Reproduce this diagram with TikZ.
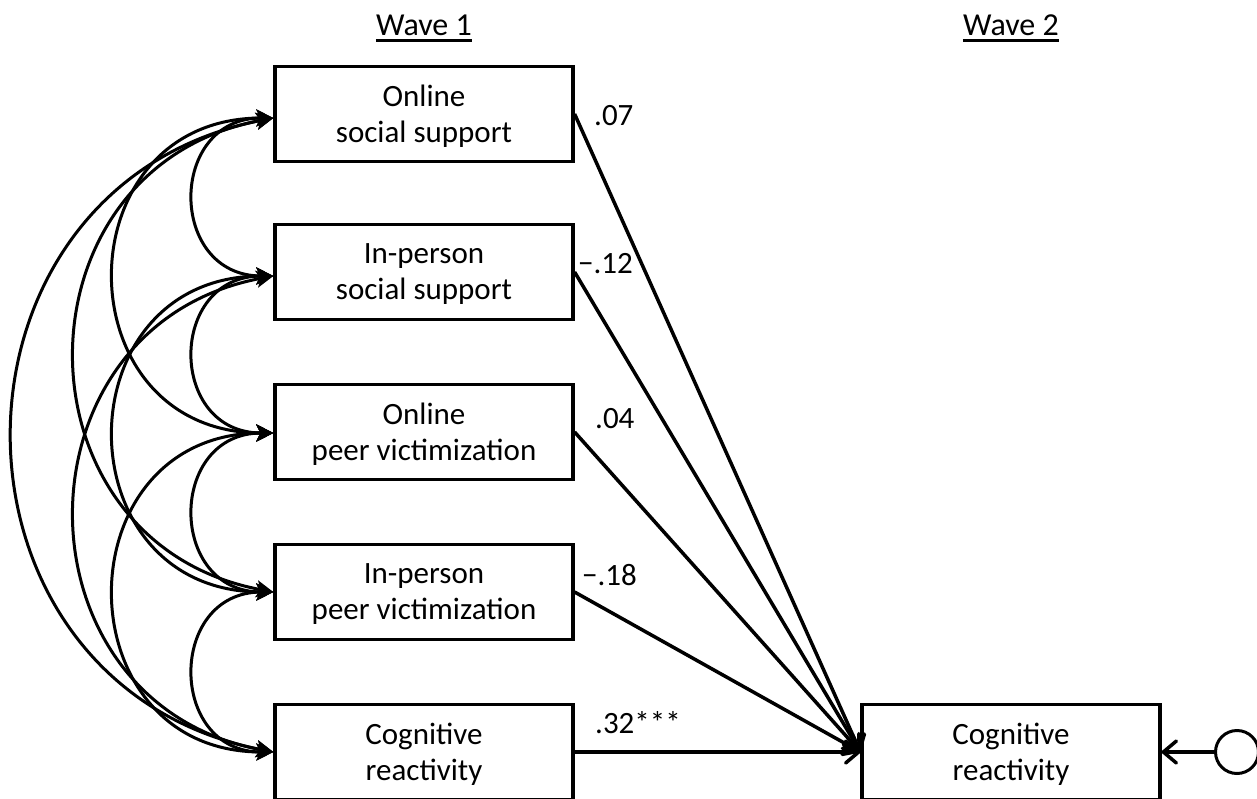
\documentclass[tikz,border=0pt]{standalone}
\usepackage{fontspec}
\setmainfont{Carlito}
\usetikzlibrary{arrows.meta,calc}
\begin{document}
\begin{tikzpicture}[x=1pt,y=1pt,
  box/.style={draw, line width=3.2pt, minimum width=298pt, minimum height=95pt, inner sep=0pt,
    align=center, text depth=0pt, font=\fontsize{31}{36}\selectfont},
  lab/.style={inner sep=0pt, anchor=base west, font=\fontsize{31}{36}\selectfont},
  wavetitle/.style={inner sep=0pt, anchor=base, font=\fontsize{32}{38}\selectfont},
  cov/.style={{Stealth[length=17pt,width=17pt,inset=4pt]}-{Stealth[length=17pt,width=17pt,inset=4pt]}, line width=3pt},
  regpath/.style={-{Straight Barb[length=13pt,width=22pt,round]}, line width=3.5pt},
  uline/.style={line width=3pt}
]
\useasboundingbox (0,0) rectangle (1257,-798);

% titles
\node (w1) [wavetitle] at (424,-35) {Wave 1};
\node (w2) [wavetitle] at (1011,-35) {Wave 2};
\draw[uline] ([yshift=-5pt]w1.base west) -- ([yshift=-5pt]w1.base east);
\draw[uline] ([yshift=-5pt]w2.base west) -- ([yshift=-5pt]w2.base east);

% boxes
\node (b1) [box] at (424,-114) {Online\\social support};
\node (b2) [box] at (424,-272) {In-person\\social support};
\node (b3) [box] at (424,-432) {Online\\peer victimization};
\node (b4) [box] at (424,-592) {In-person\\peer victimization};
\node (b5) [box] at (424,-752) {Cognitive\\reactivity};
\node (r)  [box] at (1011,-752) {Cognitive\\reactivity};
\node (e) [circle, draw, line width=3pt, minimum size=43pt, inner sep=0pt] at (1237,-752) {};

% covariance end points
\coordinate (c1) at ($(b1.west)+(0,-4)$);
\coordinate (c2) at ($(b2.west)+(0,-4)$);
\coordinate (c3) at ($(b3.west)+(0,-1)$);
\coordinate (c4) at ($(b4.west)+(0,0)$);
\coordinate (c5) at ($(b5.west)+(0,0)$);

% adjacent
\draw[cov] (c1) .. controls ($(c1)+(-106,0)$) and ($(c2)+(-106,0)$) .. (c2);
\draw[cov] (c2) .. controls ($(c2)+(-106,0)$) and ($(c3)+(-106,0)$) .. (c3);
\draw[cov] (c3) .. controls ($(c3)+(-106,0)$) and ($(c4)+(-106,0)$) .. (c4);
\draw[cov] (c4) .. controls ($(c4)+(-106,0)$) and ($(c5)+(-106,0)$) .. (c5);
% two apart
\draw[cov] (c1) .. controls ($(c1)+(-212,0)$) and ($(c3)+(-212,0)$) .. (c3);
\draw[cov] (c2) .. controls ($(c2)+(-212,0)$) and ($(c4)+(-212,0)$) .. (c4);
\draw[cov] (c3) .. controls ($(c3)+(-212,0)$) and ($(c5)+(-212,0)$) .. (c5);
% three apart
\draw[cov] (c1) .. controls ($(c1)+(-264,-49)$) and ($(c4)+(-264,49)$) .. (c4);
\draw[cov] (c2) .. controls ($(c2)+(-264,-49)$) and ($(c5)+(-264,49)$) .. (c5);
% four apart
\draw[cov] (c1) .. controls ($(c1)+(-347,-68)$) and ($(c5)+(-347,68)$) .. (c5);

% regression paths
\draw[regpath] (b1.east) -- (r.west);
\draw[regpath] (b2.east) -- (r.west);
\draw[regpath] (b3.east) -- (r.west);
\draw[regpath] (b4.east) -- (r.west);
\draw[regpath] (b5.east) -- (r.west);
\draw[regpath] (e.west) -- (r.east);

% labels
\node (l1) [lab] at (594,-125) {.07};
\node (l2) [lab] at (578,-273) {−.12};
\node (l3) [lab] at (595,-428) {.04};
\node (l4) [lab] at (582,-585) {−.18};
\node (l5) [lab] at (595,-733) {.32***};
\end{tikzpicture}
\end{document}
